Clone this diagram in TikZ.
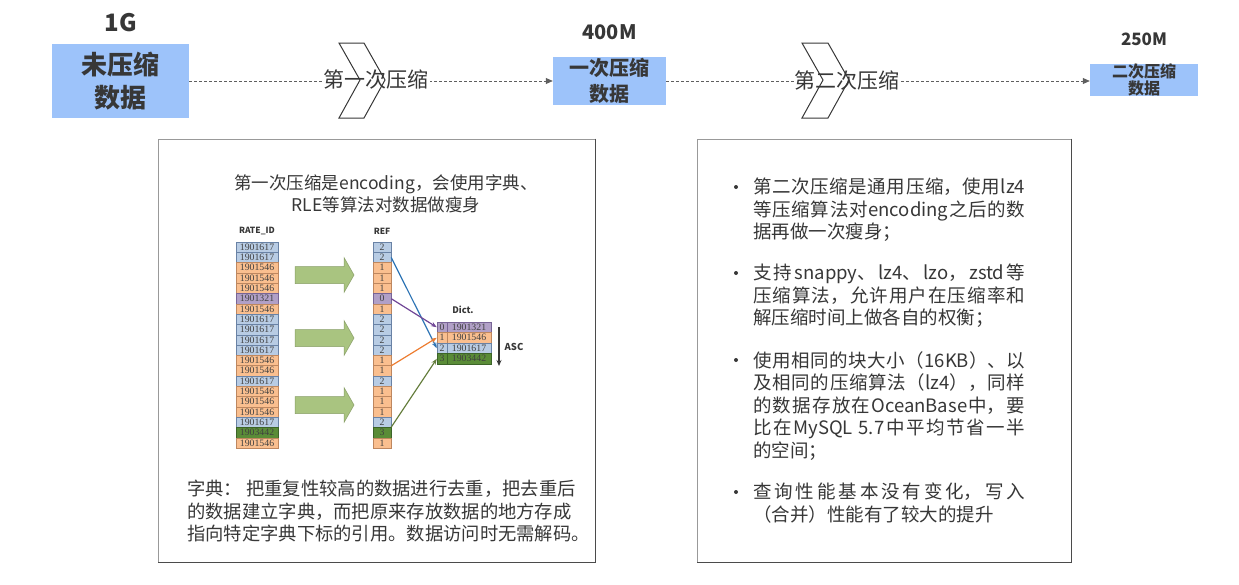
\documentclass[tikz,border=0pt]{standalone}
\usepackage{fontspec}
\setmainfont{Noto Sans CJK SC}
\newfontfamily\cellfont{Liberation Serif}
\usetikzlibrary{positioning,arrows.meta}
\XeTeXlinebreaklocale "zh"
\XeTeXlinebreakskip=0pt plus 2pt
\tolerance=10000
\definecolor{boxblue}{RGB}{157,195,250}
\definecolor{ink}{RGB}{55,55,55}
\definecolor{cb}{RGB}{184,204,228}\definecolor{db}{RGB}{105,130,165}
\definecolor{co}{RGB}{250,191,143}\definecolor{do}{RGB}{190,135,95}
\definecolor{cp}{RGB}{177,160,199}\definecolor{dp}{RGB}{120,100,150}
\definecolor{cg}{RGB}{90,140,55}\definecolor{dg}{RGB}{60,100,40}
\definecolor{arrgreen}{RGB}{169,196,128}
\definecolor{linkblue}{RGB}{47,117,181}
\definecolor{linkpurple}{RGB}{112,70,150}
\definecolor{linkorange}{RGB}{237,125,49}
\definecolor{linkgreen}{RGB}{100,125,60}
\tikzset{
  stagebox/.style={fill=boxblue,text=ink,align=center,inner sep=0pt},
  sizelabel/.style={text=ink,inner sep=0pt},
  flow/.style={dashed,dash pattern=on 3pt off 2pt,draw=ink!80,line width=0.8pt,-{Triangle[length=7pt,width=6pt]}},
  chev/.style={draw=ink,line width=1pt},
  stepname/.style={fill=white,text=ink,inner sep=1pt,font=\fontsize{21}{21}\selectfont},
  panel/.style={draw=gray!80,line width=0.8pt,inner sep=0pt},
  panelshadow/.style={draw=ink!90,line width=1.6pt},
  cell/.style={inner sep=0pt,minimum height=10.3pt,text=black!75,font=\cellfont\fontsize{9.8}{9.8}\selectfont},
  colhead/.style={inner sep=0pt,text=ink,font=\bfseries\fontsize{8.5}{8.5}\selectfont},
  link/.style={line width=1.2pt,-{Stealth[length=6pt,width=4.5pt]}},
  paneltext/.style={text=ink,inner sep=0pt},
  bigarrow/.pic={\draw[draw=arrgreen!80!black,fill=arrgreen,line width=0.5pt]
    (0,-8.5) -- (49,-8.5) -- (49,-17.5) -- (59,0) -- (49,17.5) -- (49,8.5) -- (0,8.5) -- cycle;},
}
\begin{document}
\begin{tikzpicture}[x=1pt,y=-1pt]
\useasboundingbox (0,0) rectangle (1239,584);
% top row: sizes after each compression
\node[stagebox,minimum width=137pt,minimum height=74pt,font=\bfseries\fontsize{26}{33}\selectfont] (raw) at (120.5,81) {未压缩\\数据};
\node[stagebox,minimum width=113pt,minimum height=48pt,font=\bfseries\fontsize{20}{26}\selectfont] (once) at (609.5,81) {一次压缩\\数据};
\node[stagebox,minimum width=108pt,minimum height=31pt,font=\bfseries\fontsize{16}{17}\selectfont] (twice) at (1144,80) {二次压缩\\数据};
\node[sizelabel,font=\bfseries\fontsize{24}{24}\selectfont,above=12pt of raw] (rawsize) {1G};
\node[sizelabel,font=\bfseries\fontsize{20}{20}\selectfont,above=17pt of once] (oncesize) {400M};
\node[sizelabel,font=\bfseries\fontsize{17}{17}\selectfont,above=18pt of twice] (twicesize) {250M};
\draw[flow] (raw.east) -- (once.west);
\draw[flow] (once.east) -- (twice.west |- once.east);
\node[stepname] (step1) at (376,80) {第一次压缩};
\node[stepname] (step2) at (847,81) {第二次压缩};
\draw[chev] (339,43) -- (364,43) -- (385,80) -- (364,118) -- (339,118) -- (360,80) -- cycle;
\draw[chev] (802,43) -- (828,43) -- (849,80) -- (828,118) -- (802,118) -- (823,80) -- cycle;

% left panel: encoding
\node[panel,minimum width=437pt,minimum height=423pt] (encpanel) at (376.5,350.5) {};
\draw[panelshadow] (encpanel.north east) -- (encpanel.south east) -- (encpanel.south west);
\node[paneltext,align=center,font=\fontsize{17.5}{22.5}\selectfont] (enctitle) at (386,194) {第一次压缩是encoding，会使用字典、\\RLE等算法对数据做瘦身};
\node[colhead] (ridhead) at (257,231) {RATE\_ID};
\node[colhead] (refhead) at (382,231) {REF};
\foreach \v/\c/\r [count=\i] in {1901617/b/2,1901617/b/2,1901546/o/1,1901546/o/1,1901546/o/1,
    1901321/p/0,1901546/o/1,1901617/b/2,1901617/b/2,1901617/b/2,1901617/b/2,1901546/o/1,
    1901546/o/1,1901617/b/2,1901546/o/1,1901546/o/1,1901546/o/1,1901617/b/2,1903442/g/3,1901546/o/1}{
  \node[cell,fill=c\c,draw=d\c,minimum width=42pt] (rid\i) at (257,236.85+10.3*\i) {\v};
  \node[cell,fill=c\c,draw=d\c,minimum width=18pt] (ref\i) at (382,236.85+10.3*\i) {\r};
}
\foreach \y in {275,338,405}
  \pic at (295,\y) {bigarrow};
\node[colhead,font=\bfseries\fontsize{9}{9}\selectfont] (dicthead) at (463,310) {Dict.};
\foreach \k/\v/\c [count=\i] in {0/1901321/p,1/1901546/o,2/1901617/b,3/1903442/g}{
  \node[cell,fill=c\c,draw=d\c,minimum width=10pt,minimum height=10.5pt] (dk\k) at (442,316.75+10.5*\i) {\k};
  \node[cell,fill=c\c,draw=d\c,minimum width=44pt,minimum height=10.5pt] (dv\k) at (469,316.75+10.5*\i) {\v};
}
\coordinate (asctop) at (499,327);
\coordinate (ascbot) at (499,366);
\draw[line width=1.2pt,draw=ink,-{Stealth[length=6pt,width=5pt]}] (asctop) -- (ascbot);
\node[colhead,font=\bfseries\fontsize{9.5}{9.5}\selectfont] (asc) at (514,347) {ASC};
\draw[link,draw=linkblue] (ref2.east) -- (dk2.west);
\draw[link,draw=linkpurple] (ref6.east) -- (dk0.west);
\draw[link,draw=linkorange] (ref12.south east) -- (dk1.west);
\draw[link,draw=linkgreen] (ref19.north east) -- (dk3.west);
\node[paneltext,anchor=north west,align=left,font=\fontsize{18.3}{22.5}\selectfont] (dictnote) at (187,480)
  {字典： 把重复性较高的数据进行去重，把去重后\\的数据建立字典，而把原来存放数据的地方存成\\指向特定字典下标的引用。数据访问时无需解码。};

% right panel: general compression
\node[panel,minimum width=374pt,minimum height=423pt] (lzpanel) at (884,350.5) {};
\draw[panelshadow] (lzpanel.north east) -- (lzpanel.south east) -- (lzpanel.south west);
\tikzset{point/.style={paneltext,anchor=north west,text width=272pt,align=justify,font=\fontsize{18.5}{22.5}\selectfont},
  dot/.style={circle,fill=ink,inner sep=0pt,minimum size=4pt}}
\node[point] (pt1) at (753,178) {第二次压缩是通用压缩，使用lz4\linebreak 等压缩算法对encoding之后的数\linebreak 据再做一次瘦身；};
\node[point] (pt2) at (753,264) {支持snappy、lz4、lzo，zstd等\linebreak 压缩算法，允许用户在压缩率和\linebreak 解压缩时间上做各自的权衡；};
\node[point] (pt3) at (753,351) {使用相同的块大小（16KB）、以\linebreak 及相同的压缩算法（lz4），同样\linebreak 的数据存放在OceanBase中，要\linebreak 比在MySQL 5.7中平均节省一半\linebreak 的空间；};
\node[point] (pt4) at (753,483) {查询性能基本没有变化，写入\linebreak （合并）性能有了较大的提升};
\node[dot] (dot1) at (736,187) {};
\node[dot] (dot2) at (736,273) {};
\node[dot] (dot3) at (736,360) {};
\node[dot] (dot4) at (736,492) {};
\end{tikzpicture}
\end{document}
